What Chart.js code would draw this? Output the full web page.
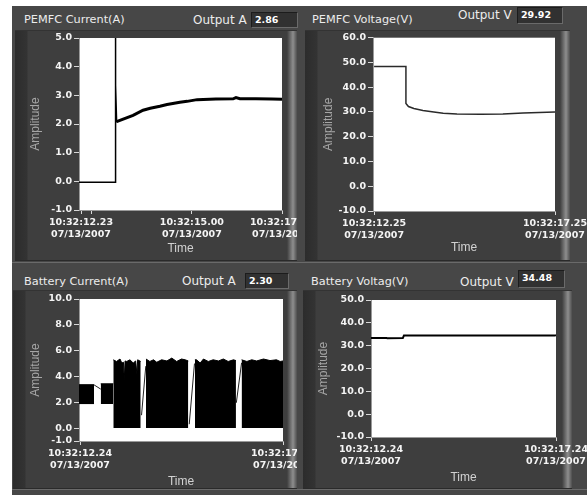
<!DOCTYPE html>
<html>
<head>
<meta charset="utf-8">
<script src="https://cdn.jsdelivr.net/npm/chart.js@4.4.1/dist/chart.umd.min.js"></script>
<style>
  html, body { margin: 0; padding: 0; background: #fff; overflow: hidden; width: 587px; height: 495px; }
  .abs { position: absolute; }
  .app { left: 12px; top: 6px; width: 575px; height: 489px; background: #474747; }
  .frame {
    background: linear-gradient(to right, #2c2c2c 0, #333 12px, #3e3e3e 13px, #3e3e3e calc(100% - 10px),
      #666 calc(100% - 7px), #8e8e8e calc(100% - 4px), #4e4e4e 100%);
    border-top: 1px solid #333; border-bottom: 1px solid #2a2a2a; box-sizing: border-box;
  }
  .clip { overflow: hidden; }
  .title { font: 11.3px 'DejaVu Sans', sans-serif; color: #ececec; height: 16px; line-height: 16px; white-space: nowrap; }
  .out { font: 12px 'DejaVu Sans', sans-serif; color: #ececec; height: 16px; line-height: 16px; white-space: nowrap; }
  .box {
    background: #313131; box-sizing: border-box; border: 1px solid #6a6a6a; border-top-color: #1c1c1c; border-left-color: #1c1c1c;
    font: bold 9.5px 'DejaVu Sans', sans-serif; color: #fff; padding-left: 3px; line-height: 14px;
  }
  .hline { height: 1px; background: #6a6a6a; }
</style>
</head>
<body>
<div class="abs app"></div>

<div class="abs frame" style="left:15px;top:30px;width:282px;height:231px"></div>
<div class="abs frame" style="left:305px;top:30px;width:265px;height:231px"></div>
<div class="abs frame" style="left:13px;top:290px;width:284px;height:199px"></div>
<div class="abs frame" style="left:303px;top:290px;width:269px;height:199px"></div>
<div class="abs hline" style="left:12px;top:262px;width:575px"></div>
<div class="abs hline" style="left:12px;top:489px;width:575px"></div>

<div class="abs title" style="left:24px;top:12px">PEMFC Current(A)</div>
<div class="abs out" style="left:193px;top:12px">Output A</div>
<div class="abs box" style="left:251px;top:12px;width:47px;height:16px">2.86</div>

<div class="abs title" style="left:312px;top:12px">PEMFC Voltage(V)</div>
<div class="abs out" style="left:458px;top:7px">Output V</div>
<div class="abs box" style="left:517px;top:7px;width:46px;height:17px">29.92</div>

<div class="abs title" style="left:24px;top:274px">Battery Current(A)</div>
<div class="abs out" style="left:182px;top:273px">Output A</div>
<div class="abs box" style="left:245px;top:273px;width:44px;height:16px">2.30</div>

<div class="abs title" style="left:311px;top:274px">Battery Voltag(V)</div>
<div class="abs out" style="left:460px;top:274px">Output V</div>
<div class="abs box" style="left:518px;top:270px;width:47px;height:18px">34.48</div>

<div class="abs clip" style="left:15px;top:30px;width:282px;height:230px"><canvas id="pemfcCurrent" width="307" height="230"></canvas></div>
<div class="abs clip" style="left:305px;top:30px;width:282px;height:230px"><canvas id="pemfcVoltage" width="300" height="230"></canvas></div>
<div class="abs clip" style="left:13px;top:290px;width:284px;height:200px"><canvas id="batteryCurrent" width="310" height="200"></canvas></div>
<div class="abs clip" style="left:303px;top:290px;width:284px;height:200px"><canvas id="batteryVoltage" width="300" height="200"></canvas></div>

<script>
// time axis values are seconds after 10:32:00 on 07/13/2007
const pemfcCurTimeA = [12.18, 13.08, 13.08, 13.10, 13.10, 13.12];
const pemfcCurA = [-0.03, -0.03, 5.0, 1.7, 3.35, 2.05];
const pemfcCurTimeB = [13.12, 13.3, 13.53, 13.78, 13.96, 14.2, 14.38, 14.7, 14.88, 15.13, 15.6, 16.03, 16.1, 16.2, 16.6, 17.0, 17.25];
const pemfcCurB = [2.08, 2.18, 2.3, 2.48, 2.55, 2.62, 2.68, 2.76, 2.79, 2.85, 2.87, 2.88, 2.92, 2.88, 2.88, 2.87, 2.86];

const pemfcVoltTime = [12.25, 13.13, 13.13, 13.2, 13.35, 13.6, 13.9, 14.16, 14.54, 15.2, 15.81, 16.37, 17.25];
const pemfcVolt = [48.4, 48.4, 33.4, 32.2, 31.4, 30.6, 30.0, 29.5, 29.2, 29.1, 29.2, 29.6, 30.0];

// battery current: low-load blocks, high-load switching blocks (top envelope), and the joining lines
const batLowTime = [12.215, 12.585, 12.6, 12.75, 13.06];
const batLowTop = [3.36, 3.36, null, 3.43, 3.43];
const batHighTime = [
  13.06, 13.14, 13.225, 13.27, 13.31, 13.33, 13.35, 13.39, 13.47, 13.55, 13.61, 13.64, 13.66, 13.735,
  13.8,
  13.865, 13.96, 14.05, 14.13, 14.25, 14.38, 14.5, 14.62, 14.74, 14.83, 14.907,
  15.0,
  15.07, 15.11, 15.2, 15.28, 15.4, 15.52, 15.65, 15.77, 15.89, 16.02, 16.08,
  16.15,
  16.22, 16.35, 16.47, 16.59, 16.76, 16.92, 17.08, 17.17, 17.24
];
const batHighTop = [
  5.29, 5.16, 5.35, 5.04, 5.1, 3.74, 5.2, 5.16, 5.29, 5.04, 5.2, 4.21, 5.29, 5.16,
  null,
  5.35, 5.16, 5.29, 5.1, 5.29, 5.2, 5.42, 5.16, 5.35, 5.29, 5.2,
  null,
  5.29, 5.29, 5.04, 5.35, 5.16, 5.29, 5.2, 5.35, 5.16, 5.29, 5.23,
  null,
  5.29, 5.16, 5.29, 5.2, 5.35, 5.23, 5.29, 5.16, 5.2
];
const batLinkTime = [12.585, 12.75, 12.8, 13.755, 13.86, 13.9, 14.93, 15.06, 15.1, 16.09, 16.22];
const batLink = [3.35, 3.02, null, 1.0, 4.8, null, 0.3, 5.0, null, 1.96, 5.06];

const batVoltTime = [12.24, 12.66, 12.68, 13.1, 13.13, 17.2, 17.24];
const batVolt = [33.4, 33.4, 33.2, 33.3, 34.4, 34.4, 34.6];

const pemfcCurXTicks = [12.23, 12.48, 15.00, 17.25];
const pemfcCurYTicks = [-1, 0, 1, 2, 3, 4, 5];
const pemfcVoltXTicks = [12.25, 17.25];
const pemfcVoltYTicks = [-10, 0, 10, 20, 30, 40, 50, 60];
const batCurXTicks = [12.24, 17.24];
const batCurYTicks = [-1, 0, 2, 4, 6, 8, 10];
const batVoltXTicks = [12.24, 17.24];
const batVoltYTicks = [-10, 0, 10, 20, 30, 40, 50];
const unlabelledTicks = [12.48];

const TICK_FONT = { family: 'DejaVu Sans', weight: 'bold', size: 9.5 };
const AXIS_FONT = { family: 'Liberation Sans', size: 12 };

function points(xs, ys) {
    return xs.map((x, i) => ({ x, y: ys[i] }));
}

function timeLabel(value) {
    if (unlabelledTicks.some(t => Math.abs(t - value) < 1e-6)) return '';
    return [`10:32:${value.toFixed(2).padStart(5, '0')}`, '07/13/2007'];
}

const plotBackground = {
    id: 'plotBackground',
    beforeDraw(chart) {
        const { ctx, chartArea: a } = chart;
        ctx.save();
        ctx.fillStyle = '#ffffff';
        ctx.fillRect(a.left, a.top, a.width, a.height);
        ctx.restore();
    }
};

function lineSet(data, width, color) {
    return {
        data,
        borderColor: color || '#000',
        borderWidth: width,
        pointRadius: 0,
        tension: 0,
        fill: false,
        spanGaps: false
    };
}

function buildChart(id, cfg) {
    return new Chart(document.getElementById(id), {
        type: 'line',
        data: { datasets: cfg.datasets },
        plugins: [plotBackground],
        options: {
            responsive: false,
            animation: false,
            events: [],
            layout: { padding: { top: cfg.padTop, right: cfg.padRight, left: 0, bottom: 0 } },
            plugins: { legend: { display: false }, tooltip: { enabled: false } },
            scales: {
                x: {
                    type: 'linear',
                    min: cfg.xMin,
                    max: cfg.xMax,
                    afterBuildTicks: (scale) => { scale.ticks = cfg.xTicks.map(v => ({ value: v })); },
                    afterFit: (scale) => { scale.height = cfg.xHeight; },
                    ticks: {
                        color: '#f4f4f4',
                        font: TICK_FONT,
                        padding: 3,
                        autoSkip: false,
                        maxRotation: 0,
                        minRotation: 0,
                        callback: (value) => timeLabel(value)
                    },
                    grid: { drawOnChartArea: false, drawTicks: true, tickLength: 4, color: '#d8d8d8' },
                    border: { display: true, color: '#9a9a9a' },
                    title: {
                        display: true,
                        text: 'Time',
                        color: '#d2d2d2',
                        font: AXIS_FONT,
                        padding: { top: 0, bottom: cfg.xTitlePad }
                    }
                },
                y: {
                    type: 'linear',
                    min: cfg.yMin,
                    max: cfg.yMax,
                    afterBuildTicks: (scale) => { scale.ticks = cfg.yTicks.map(v => ({ value: v })); },
                    afterFit: (scale) => { scale.width = cfg.yWidth; },
                    ticks: {
                        color: '#f4f4f4',
                        font: TICK_FONT,
                        padding: 2,
                        callback: (value) => value.toFixed(1)
                    },
                    grid: { drawOnChartArea: false, drawTicks: true, tickLength: 5, color: '#d8d8d8' },
                    border: { display: true, color: '#9a9a9a' },
                    title: {
                        display: true,
                        text: 'Amplitude',
                        color: '#a6a6a6',
                        font: AXIS_FONT,
                        padding: { top: cfg.yTitlePad, bottom: 0 }
                    }
                }
            }
        }
    });
}

buildChart('pemfcCurrent', {
    datasets: [
        lineSet(points(pemfcCurTimeA, pemfcCurA), 1.5),
        lineSet(points(pemfcCurTimeB, pemfcCurB), 3)
    ],
    xMin: 12.18, xMax: 17.25, xTicks: pemfcCurXTicks,
    yMin: -1, yMax: 5, yTicks: pemfcCurYTicks,
    yWidth: 64, xHeight: 50, padTop: 8, padRight: 40,
    yTitlePad: 13, xTitlePad: 4
});

buildChart('pemfcVoltage', {
    datasets: [lineSet(points(pemfcVoltTime, pemfcVolt), 1.5, '#2a2a2a')],
    xMin: 12.22, xMax: 17.25, xTicks: pemfcVoltXTicks,
    yMin: -10, yMax: 60, yTicks: pemfcVoltYTicks,
    yWidth: 68, xHeight: 49, padTop: 6, padRight: 50,
    yTitlePad: 16, xTitlePad: 5
});

buildChart('batteryCurrent', {
    datasets: [
        Object.assign(lineSet(points(batLowTime, batLowTop), 1), { fill: { value: 1.86 }, backgroundColor: '#000' }),
        Object.assign(lineSet(points(batHighTime, batHighTop), 1), { fill: 'origin', backgroundColor: '#000' }),
        lineSet(points(batLinkTime, batLink), 1, '#222')
    ],
    xMin: 12.215, xMax: 17.24, xTicks: batCurXTicks,
    yMin: -1, yMax: 10, yTicks: batCurYTicks,
    yWidth: 66, xHeight: 49, padTop: 9, padRight: 40,
    yTitlePad: 15, xTitlePad: 1
});

buildChart('batteryVoltage', {
    datasets: [lineSet(points(batVoltTime, batVolt), 2)],
    xMin: 12.24, xMax: 17.24, xTicks: batVoltXTicks,
    yMin: -10, yMax: 50, yTicks: batVoltYTicks,
    yWidth: 68, xHeight: 53, padTop: 10, padRight: 47,
    yTitlePad: 13, xTitlePad: 5
});
</script>
</body>
</html>
